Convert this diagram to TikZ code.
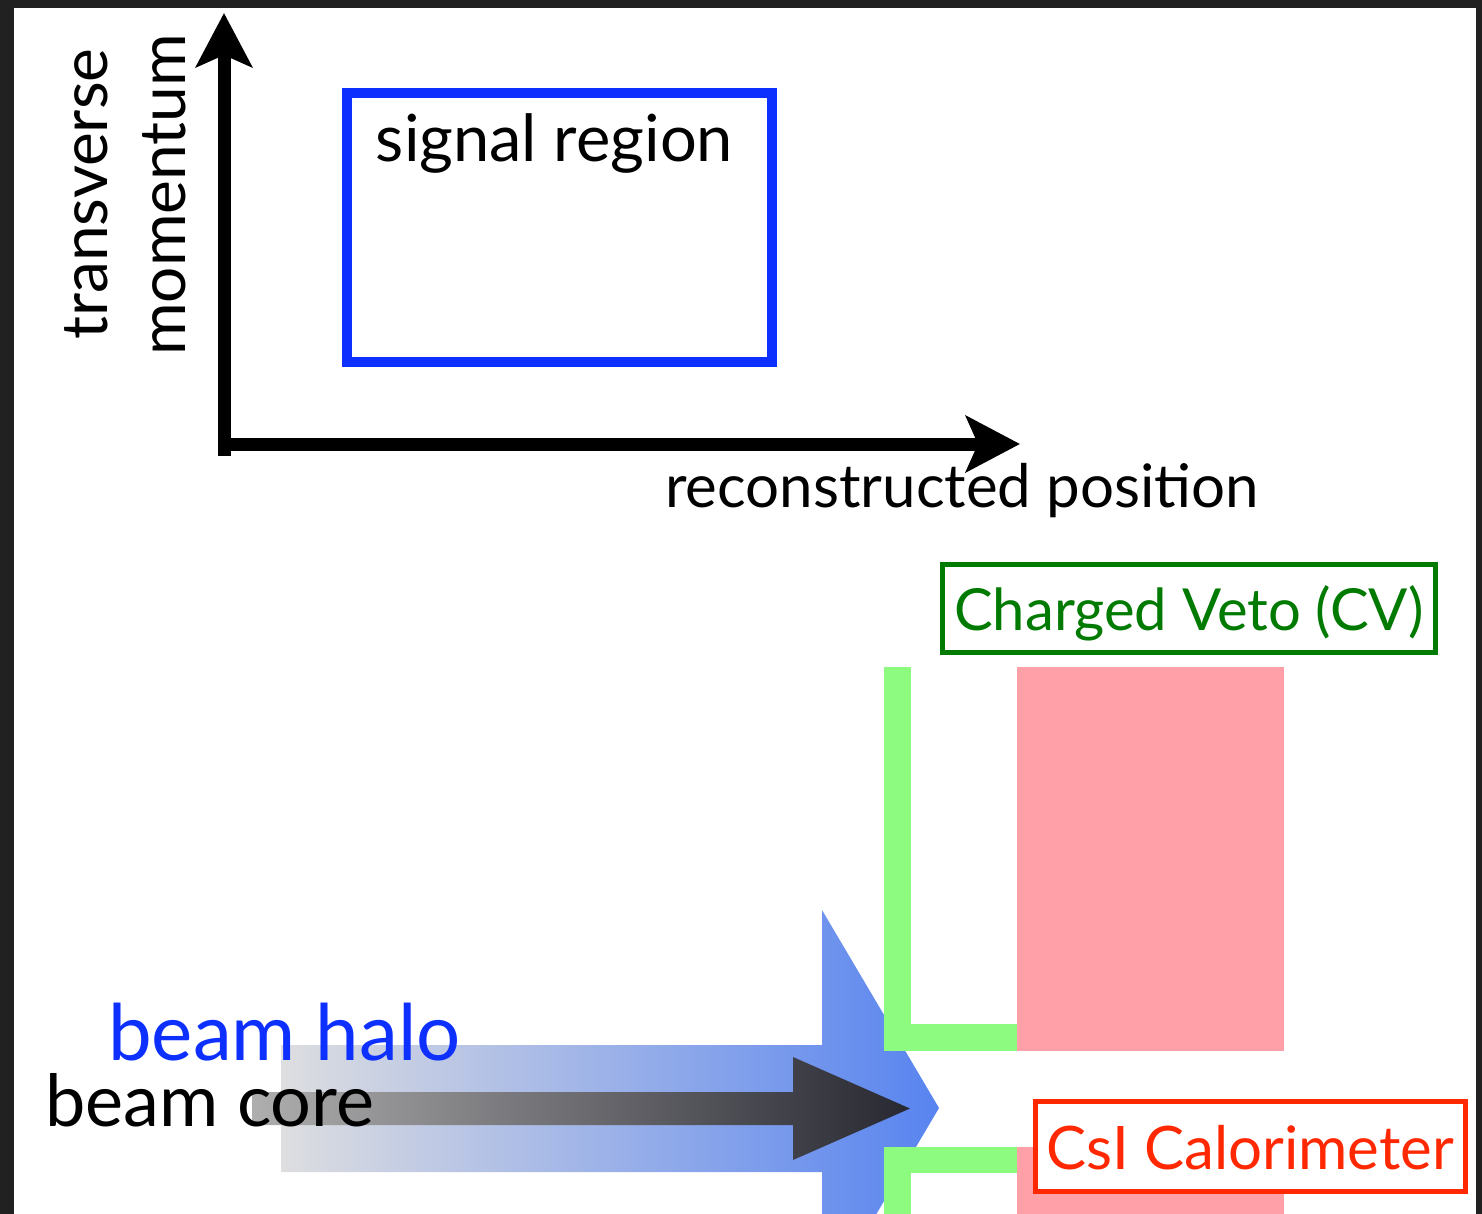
\documentclass[tikz,border=0pt]{standalone}
\usepackage{fontspec}
\setmainfont{Lato}
\usetikzlibrary{arrows.meta}

\definecolor{framegray}{RGB}{33,33,33}
\definecolor{sigblue}{RGB}{13,48,255}
\definecolor{cvgreen}{RGB}{0,122,0}
\definecolor{cvbar}{RGB}{140,251,128}
\definecolor{csipink}{RGB}{255,160,168}
\definecolor{csired}{RGB}{255,40,0}
\definecolor{halolight}{RGB}{222,222,224}
\definecolor{halomid}{RGB}{172,186,228}
\definecolor{halodark}{RGB}{88,132,240}
\definecolor{corelight}{RGB}{174,174,174}
\definecolor{coremid}{RGB}{118,118,120}
\definecolor{coredark}{RGB}{40,40,50}

\newcommand{\txtsize}[1]{\fontsize{#1}{#1}\selectfont}

\tikzset{
  axisline/.style={line width=13pt, -{Stealth[length=54pt,width=56pt,inset=12pt]}},
  boxlabel/.style={line width=5pt, fill=white, inner xsep=0pt, inner ysep=0pt, anchor=base},
  vetobar/.style={fill=cvbar},
  csiblock/.style={fill=csipink},
}

\begin{document}
\begin{tikzpicture}[x=1pt,y=-1pt]
\useasboundingbox (0,0) rectangle (1482,1214);
\clip (0,0) rectangle (1482,1214);

% slide frame and white page
\fill[framegray] (0,0) rectangle (1482,1214);
\fill[white] (14,8) rectangle (1476,1214);

% axes
\coordinate (ybot) at (224,456);
\coordinate (ytop) at (224,13);
\coordinate (xleft) at (218,444);
\coordinate (xright) at (1020,444);
\draw[axisline] (ybot) -- (ytop);
\draw[axisline] (xleft) -- (xright);

\node[rotate=90, anchor=base, inner sep=0pt] (ylab1) at (107,194) {\txtsize{64}transverse};
\node[rotate=90, anchor=base, inner sep=0pt] (ylab2) at (185,195) {\txtsize{64}momentum};
\node[anchor=base west, inner sep=0pt] (xlab) at (665,507) {\txtsize{60}reconstructed position};

% signal region
\node[draw=sigblue, line width=10.5pt, anchor=base, inner xsep=0pt, inner ysep=0pt,
      minimum width=425pt, text height=69pt, text depth=200pt] (sr) at (559.5,162)
      {\txtsize{65}signal region\hspace*{10pt}};

% halo (wide, blue) and core (narrow, dark) beam arrows
\shade[left color=halolight, middle color=halomid, right color=halodark]
  (281,1045) -- (822,1045) -- (822,910) -- (939,1108) -- (822,1306)
  -- (822,1172) -- (281,1172) -- cycle;
\shade[left color=corelight, middle color=coremid, right color=coredark]
  (252,1092) -- (793,1092) -- (793,1057) -- (910,1108.5) -- (793,1160)
  -- (793,1125) -- (252,1125) -- cycle;

\node[anchor=base west, inner sep=0pt, text=sigblue] (halo) at (108,1060) {\txtsize{78}beam halo};
\node[anchor=base west, inner sep=0pt] (core) at (45,1126) {\txtsize{72}beam core};

% detector: CsI blocks and charged veto planes
\fill[csiblock] (1017,667) rectangle (1284,1051);
\fill[csiblock] (1017,1147) rectangle (1284,1214);
\fill[vetobar] (884,667) rectangle (911,1051);
\fill[vetobar] (884,1024) rectangle (1017,1051);
\fill[vetobar] (884,1147) rectangle (1017,1173);
\fill[vetobar] (884,1147) rectangle (911,1214);

% detector labels
\node[boxlabel, draw=cvgreen, text=cvgreen, minimum width=493pt,
      text height=65.5pt, text depth=22.5pt] (cv) at (1189,630)
      {\txtsize{58}Charged Veto (CV)};
\node[boxlabel, draw=csired, text=csired, minimum width=430pt,
      text height=67.5pt, text depth=22.5pt] (csi) at (1250.5,1169)
      {\txtsize{60}CsI Calorimeter};
\end{tikzpicture}
\end{document}
